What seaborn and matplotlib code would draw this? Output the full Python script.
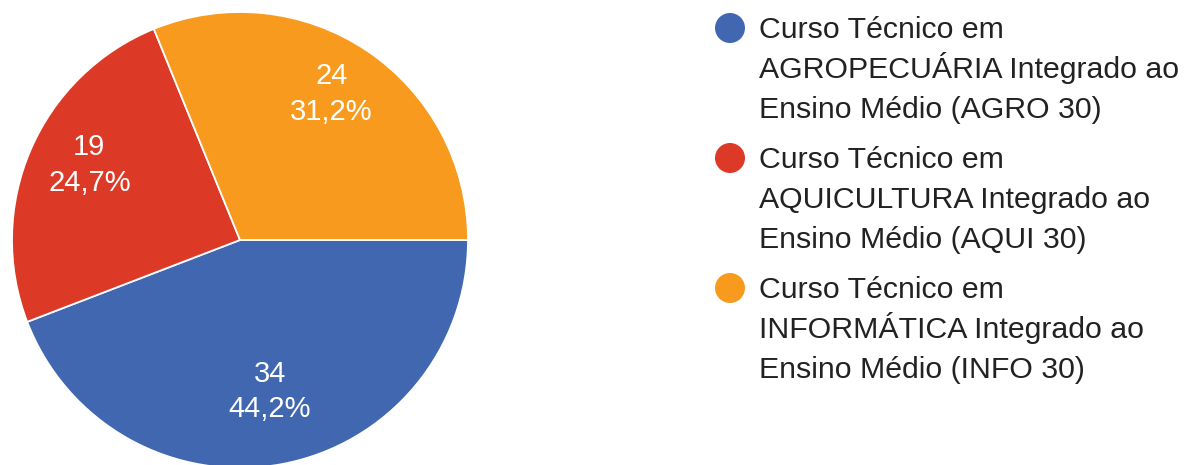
import matplotlib
matplotlib.use("Agg")
import matplotlib.pyplot as plt
import matplotlib.transforms as mtransforms
import seaborn as sns

# ---- data ----
categories = [
    "Curso Técnico em\nAGROPECUÁRIA Integrado ao\nEnsino Médio (AGRO 30)",
    "Curso Técnico em\nAQUICULTURA Integrado ao\nEnsino Médio (AQUI 30)",
    "Curso Técnico em\nINFORMÁTICA Integrado ao\nEnsino Médio (INFO 30)",
]
counts = [34, 19, 24]
colors = ["#4067B0", "#DC3A26", "#F79A1E"]

sns.set_theme(style="white")
plt.rcParams["font.family"] = ["Liberation Sans", "DejaVu Sans"]

W, H = 1187, 465
fig = plt.figure(figsize=(W / 100, H / 100), dpi=100)
fig.patch.set_facecolor("white")

# pie axes: centre (240, 240) px from top-left, radius 228 px
R = 228
cx, cy = 240, 240
ax = fig.add_axes([(cx - R) / W, (H - cy - R) / H, 2 * R / W, 2 * R / H])
total = sum(counts)


def fmt(pct):
    n = int(round(pct * total / 100.0))
    return f"{n}\n{pct:.1f}%".replace(".", ",")


wedges, texts, autotexts = ax.pie(
    counts,
    colors=colors,
    startangle=0,
    counterclock=False,
    radius=1,
    autopct=fmt,
    pctdistance=0.72,
    wedgeprops=dict(edgecolor="white", linewidth=1.3),
    textprops=dict(color="white", fontsize=21),
)
shift = mtransforms.ScaledTranslation(0, 10 / 100, fig.dpi_scale_trans)
for t in autotexts:
    t.set_linespacing(1.35)
    t.set_transform(t.get_transform() + shift)
ax.set_xlim(-1, 1)
ax.set_ylim(-1, 1)
ax.set_aspect("equal")
ax.axis("off")

# legend drawn in pixel coordinates
lax = fig.add_axes([0, 0, 1, 1], zorder=-1)
lax.set_xlim(0, W)
lax.set_ylim(H, 0)
lax.axis("off")
mx, tx = 730, 759
first_base, group_step, line_step = 38, 130, 40
for i, (lab, col) in enumerate(zip(categories, colors)):
    base = first_base + i * group_step
    lax.scatter([mx], [base - 10], s=(30 * 0.72) ** 2, color=col, edgecolors="none")
    for j, line in enumerate(lab.split("\n")):
        lax.text(tx, base + j * line_step, line, fontsize=21.8, color="#222222",
                 va="baseline", ha="left")

fig.savefig("out.png", dpi=100, facecolor="white")
